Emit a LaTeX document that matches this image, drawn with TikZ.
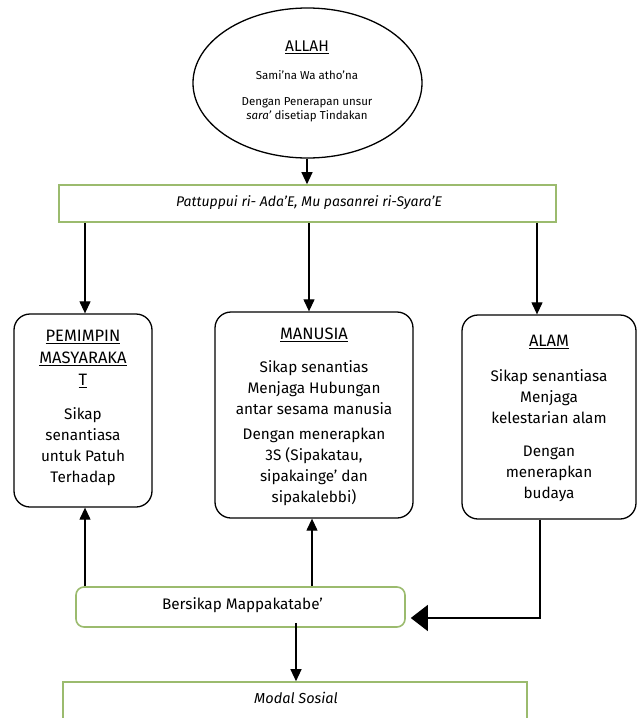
\documentclass[tikz,border=0pt]{standalone}
\usepackage{fontspec}
\setmainfont{Fira Sans}
\usetikzlibrary{shapes.geometric,arrows.meta,calc}
\definecolor{grn}{RGB}{155,187,110}
\begin{document}
\begin{tikzpicture}[x=1pt,y=-1pt,
  rbox/.style={draw=black,line width=1.3pt,rounded corners=16pt,inner sep=0pt},
  gbox/.style={draw=grn,line width=1.6pt,inner sep=0pt,fill=white},
  arr/.style={-{Triangle[length=12pt,width=11pt]},line width=1.2pt},
  bigarr/.style={-{Triangle[length=17pt,width=26pt]},line width=1.2pt},
  btxt/.style={align=center,inner sep=0pt,font=\fontsize{15.3}{21}\selectfont},
  ttxt/.style={align=center,inner sep=0pt,font=\fontsize{16.5}{22}\selectfont},
  etxt/.style={align=center,inner sep=0pt,font=\fontsize{11.5}{14}\selectfont}]
\useasboundingbox (0,0) rectangle (638,718);
% ellipse
\node[ellipse,draw=black,line width=1.3pt,minimum width=229pt,minimum height=150pt,inner sep=0pt] (allah) at (307.5,83) {};
\node[etxt,font=\fontsize{15.5}{17}\selectfont] (allaht) at (307,47) {\underline{ALLAH}};
\node[etxt] (sami) at (307,75) {Sami’na Wa atho’na};
\node[etxt] (dengan) at (307,110) {Dengan Penerapan unsur\\\textit{sara’} disetiap Tindakan};
% bar
\node[gbox,minimum width=497pt,minimum height=37pt] (bar) at (307.5,203.5) {};
\node[inner sep=0pt,font=\fontsize{14}{16}\selectfont\itshape] (bart) at (309,203) {Pattuppui ri- Ada’E, Mu pasanrei ri-Syara’E};
% boxes
\node[rbox,minimum width=138pt,minimum height=193pt] (pl) at (83,410.5) {};
\node[rbox,minimum width=198pt,minimum height=206pt] (pm) at (314,415) {};
\node[rbox,minimum width=174pt,minimum height=204pt] (pr) at (549,417) {};
\node[ttxt] (plt) at (83,359) {\underline{PEMIMPIN}\\\underline{MASYARAKA}\\\underline{T}};
\node[btxt] (plb) at (83,446.5) {Sikap\\senantiasa\\untuk Patuh\\Terhadap};
\node[ttxt] (pmt) at (314,335) {\underline{MANUSIA}};
\node[btxt] (pmb1) at (314,388) {Sikap senantias\\Menjaga Hubungan\\antar sesama manusia};
\node[btxt] (pmb2) at (314,467) {Dengan menerapkan\\3S (Sipakatau,\\sipakainge’ dan\\sipakalebbi)};
\node[ttxt] (prt) at (549,342) {\underline{ALAM}};
\node[btxt] (prb1) at (549,397) {Sikap senantiasa\\Menjaga\\kelestarian alam};
\node[btxt] (prb2) at (549,474) {Dengan\\menerapkan\\budaya};
% bottom
\node[gbox,rounded corners=8pt,minimum width=329pt,minimum height=40pt] (bs) at (240.5,607) {};
\node[inner sep=0pt,font=\fontsize{15.3}{18}\selectfont] (bst) at (242.5,605) {Bersikap Mappakatabe’};
\node[gbox,minimum width=464pt,minimum height=44pt] (ms) at (295,704) {};
\node[inner sep=0pt,font=\fontsize{14.5}{17}\selectfont\itshape] (mst) at (296,698) {Modal Sosial};
% connectors
\draw[arr] (allah.south -| allaht) -- (bar.north -| allaht);
\draw[arr] ([xshift=2pt]pl.north |- bar.south) -- ([xshift=2pt]pl.north);
\draw[arr] ([xshift=-5pt]pm.north |- bar.south) -- ([xshift=-5pt]pm.north);
\draw[arr] ([xshift=-12pt]pr.north |- bar.south) -- ([xshift=-12pt]pr.north);
\draw[arr] ([xshift=2pt]pl.south |- bs.north) -- ([xshift=2pt]pl.south);
\draw[arr] ([xshift=-2pt]pm.south |- bs.north) -- ([xshift=-2pt]pm.south);
\coordinate (turn) at ([xshift=-9pt]pr.south |- 0,618);
\draw[bigarr] ([xshift=-9pt]pr.south) -- (turn) -- ([xshift=5pt]bs.east |- turn);
\draw[arr] ([yshift=5pt]bs.south -| mst) -- (ms.north -| mst);
\end{tikzpicture}
\end{document}
